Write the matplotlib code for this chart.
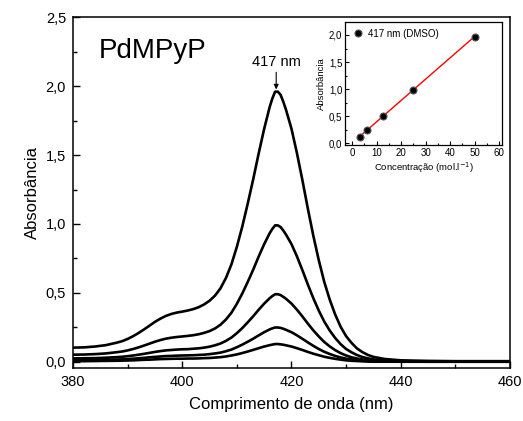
import numpy as np
import matplotlib
matplotlib.use("Agg")
import matplotlib.pyplot as plt
from matplotlib.ticker import MultipleLocator, FuncFormatter

plt.rcParams['font.family'] = ['Liberation Sans', 'DejaVu Sans']

wavelength = [380, 382, 384, 386, 388, 389, 390, 391, 392, 393, 394, 395, 396, 397, 398, 399,
              400, 401, 402, 403, 404, 405, 406, 407, 408, 409, 410, 411, 412, 413, 414, 415,
              416, 416.5, 417, 417.5, 418, 418.5, 419, 420, 421, 422, 423, 424, 425, 426, 427,
              428, 429, 430, 431, 432, 433, 434, 435, 437, 440, 445, 450, 460]

abs_1 = [0.104, 0.106, 0.112, 0.122, 0.140, 0.151, 0.167, 0.187, 0.210, 0.236, 0.263, 0.291,
         0.314, 0.334, 0.348, 0.358, 0.365, 0.373, 0.383, 0.397, 0.417, 0.444, 0.481, 0.534,
         0.609, 0.707, 0.835, 0.983, 1.150, 1.326, 1.513, 1.690, 1.847, 1.910, 1.959, 1.959,
         1.936, 1.886, 1.827, 1.690, 1.513, 1.317, 1.110, 0.914, 0.737, 0.580, 0.452, 0.344,
         0.255, 0.187, 0.138, 0.098, 0.071, 0.051, 0.037, 0.022, 0.012, 0.008, 0.006, 0.006]
abs_2 = [0.053, 0.054, 0.057, 0.062, 0.071, 0.076, 0.084, 0.094, 0.106, 0.119, 0.133, 0.147,
         0.159, 0.169, 0.176, 0.181, 0.185, 0.189, 0.194, 0.201, 0.211, 0.224, 0.243, 0.270,
         0.308, 0.357, 0.422, 0.497, 0.581, 0.670, 0.765, 0.854, 0.933, 0.965, 0.990, 0.990,
         0.978, 0.953, 0.923, 0.854, 0.765, 0.665, 0.561, 0.462, 0.372, 0.293, 0.228, 0.174,
         0.129, 0.094, 0.070, 0.050, 0.036, 0.026, 0.019, 0.011, 0.006, 0.004, 0.003, 0.003]
abs_3 = [0.026, 0.027, 0.028, 0.031, 0.035, 0.038, 0.042, 0.047, 0.053, 0.059, 0.066, 0.073,
         0.079, 0.084, 0.087, 0.090, 0.092, 0.093, 0.096, 0.099, 0.104, 0.111, 0.121, 0.134,
         0.153, 0.177, 0.209, 0.246, 0.288, 0.332, 0.379, 0.423, 0.462, 0.478, 0.491, 0.491,
         0.485, 0.472, 0.458, 0.423, 0.379, 0.330, 0.278, 0.229, 0.185, 0.145, 0.113, 0.086,
         0.064, 0.047, 0.034, 0.025, 0.018, 0.013, 0.009, 0.005, 0.003, 0.002, 0.002, 0.002]
abs_4 = [0.014, 0.014, 0.015, 0.016, 0.018, 0.019, 0.021, 0.024, 0.027, 0.030, 0.034, 0.037,
         0.040, 0.043, 0.044, 0.046, 0.047, 0.048, 0.049, 0.051, 0.053, 0.057, 0.062, 0.068,
         0.078, 0.090, 0.107, 0.126, 0.147, 0.169, 0.193, 0.216, 0.236, 0.244, 0.250, 0.250,
         0.247, 0.241, 0.233, 0.216, 0.193, 0.168, 0.142, 0.117, 0.094, 0.074, 0.058, 0.044,
         0.033, 0.024, 0.018, 0.013, 0.009, 0.007, 0.005, 0.003, 0.002, 0.002, 0.002, 0.002]
abs_5 = [0.006, 0.006, 0.007, 0.008, 0.009, 0.010, 0.011, 0.012, 0.014, 0.016, 0.017, 0.019,
         0.021, 0.022, 0.023, 0.024, 0.024, 0.025, 0.025, 0.026, 0.028, 0.029, 0.032, 0.035,
         0.040, 0.047, 0.055, 0.065, 0.076, 0.088, 0.100, 0.112, 0.122, 0.126, 0.130, 0.130,
         0.128, 0.125, 0.121, 0.112, 0.100, 0.087, 0.073, 0.060, 0.049, 0.038, 0.030, 0.023,
         0.017, 0.012, 0.009, 0.007, 0.005, 0.003, 0.002, 0.002, 0.002, 0.002, 0.002, 0.002]

conc = [3.125, 6.25, 12.5, 25, 50]
abs_417 = [0.125, 0.25, 0.50, 0.99, 1.97]

comma = FuncFormatter(lambda v, p: ("%.1f" % v).replace('.', ','))
intfmt = FuncFormatter(lambda v, p: "%d" % round(v))

fig = plt.figure(figsize=(5.23, 4.21), dpi=100)
ax = fig.add_axes([0.1396, 0.1259, 0.8355, 0.8337])
for y in [abs_1, abs_2, abs_3, abs_4, abs_5]:
    ax.plot(wavelength, y, color='black', lw=1.9, solid_capstyle='round',
            solid_joinstyle='round')
ax.set_xlim(380, 460)
ax.set_ylim(-0.0435, 2.5)
ax.xaxis.set_major_locator(MultipleLocator(20))
ax.xaxis.set_minor_locator(MultipleLocator(10))
ax.yaxis.set_major_locator(MultipleLocator(0.5))
ax.yaxis.set_minor_locator(MultipleLocator(0.25))
ax.yaxis.set_major_formatter(comma)
ax.xaxis.set_major_formatter(intfmt)
ax.tick_params(which='major', direction='in', length=5, width=1, labelsize=10.5, pad=5)
ax.tick_params(which='minor', direction='in', length=3, width=1)
for s in ax.spines.values():
    s.set_linewidth(1.1)
ax.set_xlabel("Comprimento de onda (nm)", fontsize=12, labelpad=6)
ax.set_ylabel("Absorbância", fontsize=12, labelpad=4)
ax.text(0.06, 0.94, "PdMPyP", transform=ax.transAxes, fontsize=20, va='top', ha='left')
ax.annotate("417 nm", xy=(417.2, 1.975), xytext=(417.2, 2.12), ha='center', va='bottom',
            fontsize=10.5,
            arrowprops=dict(arrowstyle='-|>', color='black', lw=0.8, mutation_scale=7,
                            shrinkA=0, shrinkB=0))

ins = fig.add_axes([0.6597, 0.6556, 0.3002, 0.2922])
coef = np.polyfit(conc, abs_417, 1)
xf = np.array([conc[0], conc[-1]])
ins.plot(xf, np.polyval(coef, xf), color='red', lw=1.0, zorder=2)
ins.plot(conc, abs_417, 'o', color='black', markeredgecolor='#555555', markersize=5,
         markeredgewidth=0.8, zorder=3, label='417 nm (DMSO)')
ins.set_xlim(-2.9, 61.2)
ins.set_ylim(-0.03, 2.24)
ins.xaxis.set_major_locator(MultipleLocator(10))
ins.xaxis.set_minor_locator(MultipleLocator(5))
ins.yaxis.set_major_locator(MultipleLocator(0.5))
ins.yaxis.set_minor_locator(MultipleLocator(0.25))
ins.yaxis.set_major_formatter(comma)
ins.xaxis.set_major_formatter(intfmt)
ins.tick_params(which='major', direction='in', length=3, width=0.8, labelsize=7, pad=2)
ins.tick_params(which='minor', direction='in', length=1.5, width=0.8)
for s in ins.spines.values():
    s.set_linewidth(0.9)
ins.set_xlabel("Concentração (mol.l$^{-1}$)", fontsize=6.8, labelpad=2)
ins.set_ylabel("Absorbância", fontsize=6.8, labelpad=2)
ins.legend(loc='upper left', frameon=False, fontsize=7, handletextpad=0.5,
           borderaxespad=0.3, handlelength=1.2)

fig.savefig("out.png", dpi=100)
